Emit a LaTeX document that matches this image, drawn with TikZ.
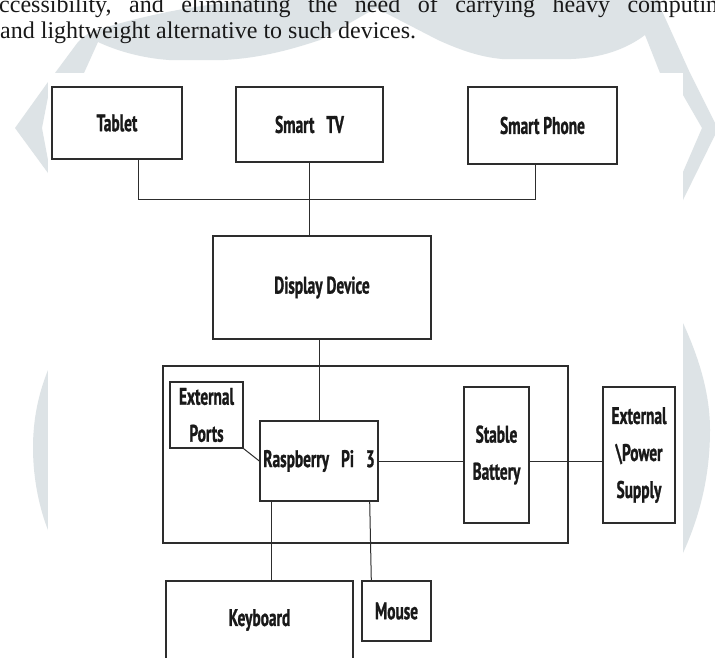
\documentclass[tikz,border=0pt]{standalone}
\usepackage{fontspec}
\setmainfont{Liberation Serif}
\newfontfamily\blockfont[FakeStretch=0.64,BoldFeatures={FakeBold=1}]{PT Sans}
\usetikzlibrary{positioning}
\definecolor{wmgrey}{RGB}{221,227,230}
\definecolor{boxline}{RGB}{45,45,45}

\begin{document}
\begin{tikzpicture}[x=1pt,y=-1pt,
    block/.style={draw=boxline,line width=1.4pt,fill=white,inner sep=0pt,align=center,
      font=\blockfont\bfseries\fontsize{24}{37}\selectfont},
    wire/.style={draw=boxline,line width=1pt},
    every node/.append style={text=black!90}]

   \useasboundingbox (0,0) rectangle (715,657);
   \fill[white] (0,0) rectangle (715,657);

   % watermark behind the figure
   \fill[wmgrey] (55,73) -- (78,42) .. controls (88,32) and (95,30) .. (100,29)
      .. controls (150,14) and (200,4) .. (256,0) -- (657,0) -- (690,73) -- (660,73) -- (645,35)
      .. controls (625,50) and (600,58) .. (571,59) -- (502,59)
      .. controls (480,57) and (460,50) .. (438,40) -- (376,8) -- (320,40)
      .. controls (290,50) and (260,58) .. (224,60) -- (169,60)
      .. controls (140,58) and (115,50) .. (98,42) -- (84,73) -- cycle;
   \fill[wmgrey] (48,82) -- (15,128) -- (48,173) -- (48,160) -- (42,128) -- (48,97) -- cycle;
   \fill[wmgrey] (683,73) -- (690,73) -- (715,123) -- (715,135) -- (683,200) -- (683,172)
      -- (702,128) -- (683,95) -- cycle;
   \fill[wmgrey] (48,370) .. controls (38,395) and (33,420) .. (33,448)
      .. controls (33,480) and (40,510) .. (48,530) -- cycle;
   \fill[wmgrey] (683,323) .. controls (700,360) and (710,395) .. (710,430)
      .. controls (710,480) and (698,520) .. (683,553) -- cycle;
   \fill[white] (48,73) rectangle (683,657);

   \node[anchor=base west,inner sep=0pt,font=\fontsize{24}{28}\selectfont] (text1) at (-1,12)
      {\spaceskip=17.5pt\relax ccessibility, and eliminating the need of carrying heavy computing};
   \node[anchor=base west,inner sep=0pt,font=\fontsize{24}{28}\selectfont] (text2) at (0,38)
      {and lightweight alternative to such devices.};

   \node[draw=boxline,line width=1.4pt,inner sep=0pt,minimum width=405,minimum height=177] (board) at (365.5,454.5) {};

   \node[block,minimum width=130,minimum height=72] (tablet)   at (117,123)   {Tablet};
   \node[block,minimum width=147,minimum height=75] (tv)       at (309.5,124.5) {Smart\enspace TV};
   \node[block,minimum width=149,minimum height=77] (phone)    at (542.5,125.5) {Smart Phone};
   \node[block,minimum width=218,minimum height=103] (display) at (322,287.5) {Display Device};
   \node[block,minimum width=73,minimum height=66] (ports)     at (206.5,415) {External\\Ports};
   \node[block,minimum width=118,minimum height=80] (pi)       at (319,461)   {Raspberry\enspace Pi\enspace 3};
   \node[block,minimum width=65,minimum height=136] (battery)  at (496.5,455) {Stable\\Battery};
   \node[block,minimum width=72,minimum height=136] (supply)   at (639,455)   {External\\\textbackslash Power\\Supply};
   \node[block,minimum width=187,minimum height=78] (keyboard) at (259.5,620) {Keyboard};
   \node[block,minimum width=69,minimum height=60] (mouse)     at (396.5,611) {Mouse};

   \coordinate (busL) at (138,199);
   \coordinate (busR) at (535,199);
   \draw[wire] (tablet.south -| busL) -- (busL) -- (busR) -- (phone.south -| busR);
   \draw[wire] (tv.south) -- (tv.south |- display.north);
   \draw[wire] (display.south -| pi.north) -- (pi.north);
   \draw[wire] (ports.south east) -- (pi.west);
   \draw[wire] (pi.east) -- (pi.east -| battery.west);
   \draw[wire] (pi.east -| battery.east) -- (pi.east -| supply.west);
   \draw[wire] ([xshift=12pt]pi.south west) -- ([xshift=12pt]pi.south west |- keyboard.north);
   \draw[wire] ([xshift=-9pt]pi.south east) -- ([xshift=10pt]mouse.north west);
\end{tikzpicture}
\end{document}
